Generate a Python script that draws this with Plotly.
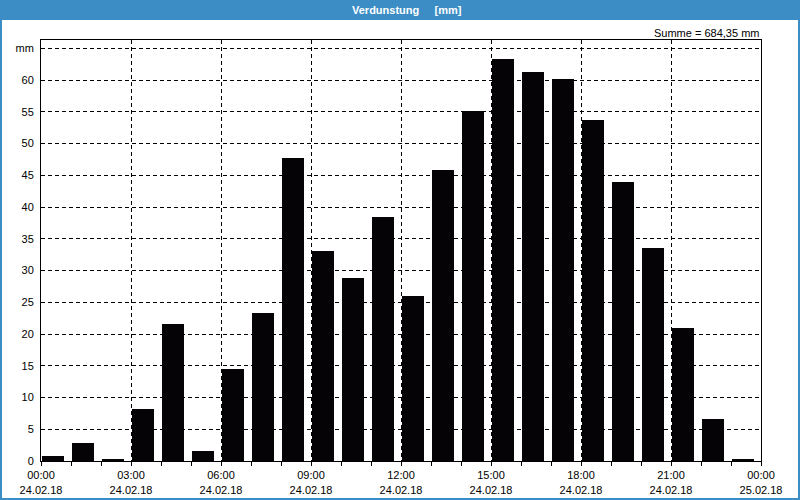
import plotly.graph_objects as go

hours = list(range(24))
values = [0.8, 2.9, 0.3, 8.2, 21.6, 1.6, 14.5, 23.3, 47.7, 33.1, 28.8, 38.4,
          26.0, 45.8, 55.1, 63.3, 61.3, 60.2, 53.7, 43.9, 33.5, 20.9, 6.6, 0.3]
tick_hours = [0, 3, 6, 9, 12, 15, 18, 21, 24]
tick_labels = ["00:00<br>24.02.18", "03:00<br>24.02.18", "06:00<br>24.02.18",
               "09:00<br>24.02.18", "12:00<br>24.02.18", "15:00<br>24.02.18",
               "18:00<br>24.02.18", "21:00<br>24.02.18", "00:00<br>25.02.18"]
y_ticks = [0, 5, 10, 15, 20, 25, 30, 35, 40, 45, 50, 55, 60, 65]
y_labels = ["0", "5", "10", "15", "20", "25", "30", "35", "40", "45", "50", "55", "60", "mm"]
title_text = "Verdunstung&nbsp;&nbsp;&nbsp;&nbsp;&nbsp;[mm]"
sum_text = "Summe = 684,35 mm"

W, H = 800, 500
L, R, T, B = 41, 39, 40, 39
pw, ph = W - L - R, H - T - B

FONT = "Liberation Sans"
BLUE = "#3c8dc5"

fig = go.Figure()
fig.add_trace(go.Bar(x=hours, y=values, offset=0.03, width=0.73,
                     marker=dict(color="#050305", line=dict(width=0)),
                     hoverinfo="x+y"))

def px_x(p):
    return (p - L) / pw

def px_y(p):
    return 1 - (p - T) / ph

shapes = [
    dict(type="rect", xref="paper", yref="paper", x0=px_x(0), x1=px_x(W),
         y0=px_y(20), y1=px_y(0), fillcolor=BLUE, line=dict(width=0), layer="above"),
    dict(type="rect", xref="paper", yref="paper", x0=px_x(0), x1=px_x(2),
         y0=px_y(H), y1=px_y(0), fillcolor=BLUE, line=dict(width=0), layer="above"),
    dict(type="rect", xref="paper", yref="paper", x0=px_x(W - 2), x1=px_x(W),
         y0=px_y(H), y1=px_y(0), fillcolor=BLUE, line=dict(width=0), layer="above"),
    dict(type="rect", xref="paper", yref="paper", x0=px_x(0), x1=px_x(W),
         y0=px_y(H), y1=px_y(H - 2), fillcolor=BLUE, line=dict(width=0), layer="above"),
]

fig.update_layout(
    template="none",
    width=W, height=H, autosize=False,
    margin=dict(l=L, r=R, t=T, b=B, pad=0, autoexpand=False),
    paper_bgcolor="white", plot_bgcolor="white",
    showlegend=False,
    font=dict(family=FONT, size=11, color="black"),
    shapes=shapes,
    bargap=0,
    annotations=[
        dict(text="<b>" + title_text + "</b>", xref="paper", yref="paper",
             x=px_x(407), y=px_y(10), xanchor="center", yanchor="middle",
             showarrow=False, font=dict(family=FONT, size=11, color="white")),
        dict(text=sum_text, xref="paper", yref="paper",
             x=1, y=px_y(33), xanchor="right", yanchor="middle",
             showarrow=False, font=dict(family=FONT, size=11, color="black")),
    ],
    xaxis=dict(
        range=[0, 24], tickmode="array", tickvals=tick_hours, ticktext=tick_labels,
        ticks="outside", ticklen=4, tickcolor="black", tickwidth=1,
        showline=True, linecolor="black", linewidth=1, mirror=True,
        showgrid=True, gridcolor="black", gridwidth=1, griddash="4px,3px",
        zeroline=False, fixedrange=True, automargin=False,
        minor=dict(dtick=1, ticks="outside", ticklen=4, tickcolor="black", showgrid=False),
        tickfont=dict(family=FONT, size=11, color="black"),
    ),
    yaxis=dict(
        range=[0, 66.3], tickmode="array", tickvals=y_ticks, ticktext=y_labels,
        ticks="", showline=True, linecolor="black", linewidth=1, mirror=True,
        showgrid=True, gridcolor="black", gridwidth=1, griddash="4px,3px",
        zeroline=False, ticklabelstandoff=4, fixedrange=True, automargin=False,
        tickfont=dict(family=FONT, size=11, color="black"),
    ),
)

fig.write_html(
    "out.html",
    config={"displayModeBar": False},
    post_script="document.body.style.margin='0';document.body.style.overflow='hidden';",
)
